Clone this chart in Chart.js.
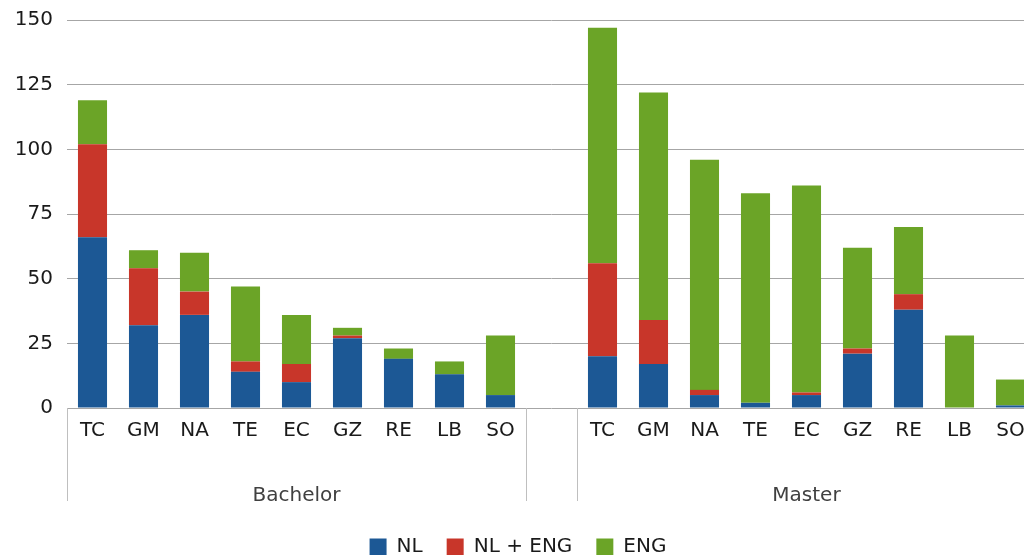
<!DOCTYPE html>
<html>
<head>
<meta charset="utf-8">
<script src="https://cdn.jsdelivr.net/npm/chart.js@4/dist/chart.umd.min.js"></script>
<style>
  html, body { margin: 0; padding: 0; background: #ffffff; overflow: hidden; width: 1024px; height: 555px; }
  #wrap { position: absolute; left: 0; top: 0; width: 1046px; height: 567px; }
</style>
</head>
<body>
<div id="wrap"><canvas id="c"></canvas></div>
<script>
// Categories (gap category between the two groups is an empty label)
const categories = ['TC','GM','NA','TE','EC','GZ','RE','LB','SO','', 'TC','GM','NA','TE','EC','GZ','RE','LB','SO'];
const groups = ['Bachelor', 'Master'];
const groupSpans = [[0, 8], [10, 18]];

// Series values (Bachelor 9, gap, Master 9)
const nl     = [66, 32, 36, 14, 10, 27, 19, 13, 5,  null, 20, 17, 5, 2, 5, 21, 38, 0, 1];
const nlEng  = [36, 22,  9,  4,  7,  1,  0,  0, 0,  null, 36, 17, 2, 0, 1,  2,  6, 0, 0];
const eng    = [17,  7, 15, 29, 19,  3,  4,  5, 23, null, 91, 88, 89, 81, 80, 39, 26, 28, 10];

const seriesNames = ['NL', 'NL + ENG', 'ENG'];
const yTicks = [0, 25, 50, 75, 100, 125, 150];

const FONT = "'DejaVu Sans', Verdana, sans-serif";

const groupPlugin = {
  id: 'groupAxis',
  afterDraw(chart) {
    const ctx = chart.ctx;
    const x = chart.scales.x;
    const area = chart.chartArea;
    const half = (x.getPixelForValue(1) - x.getPixelForValue(0)) / 2;
    const top = area.bottom;
    const bottom = area.bottom + 93;
    ctx.save();
    ctx.strokeStyle = '#bfbfbf';
    ctx.lineWidth = 1;
    const seps = [0, 9, 10];
    seps.forEach(i => {
      const px = Math.round(x.getPixelForValue(i) - half) + 0.5;
      ctx.beginPath();
      ctx.moveTo(px, top);
      ctx.lineTo(px, bottom);
      ctx.stroke();
    });
    ctx.fillStyle = '#404040';
    ctx.font = '20px ' + FONT;
    ctx.textAlign = 'center';
    ctx.textBaseline = 'alphabetic';
    groups.forEach((g, gi) => {
      const [a, b] = groupSpans[gi];
      const cx = (x.getPixelForValue(a) + x.getPixelForValue(b)) / 2;
      ctx.fillText(g, cx, area.bottom + 93);
    });
    ctx.restore();
  }
};

new Chart(document.getElementById('c'), {
  type: 'bar',
  data: {
    labels: categories,
    datasets: [
      { label: seriesNames[0], data: nl,    backgroundColor: '#1c5895' },
      { label: seriesNames[1], data: nlEng, backgroundColor: '#c8362a' },
      { label: seriesNames[2], data: eng,   backgroundColor: '#6ba427' }
    ]
  },
  options: {
    responsive: true,
    maintainAspectRatio: false,
    animation: false,
    datasets: { bar: { barPercentage: 0.57, categoryPercentage: 1.0 } },
    layout: { padding: { top: 20, right: 10, left: 0, bottom: 0 } },
    plugins: {
      tooltip: { enabled: false },
      legend: {
        position: 'bottom',
        labels: {
          font: { family: FONT, size: 20 },
          color: '#1a1a1a',
          boxWidth: 17,
          boxHeight: 17,
          padding: 24
        }
      }
    },
    scales: {
      x: {
        stacked: true,
        grid: { display: false },
        border: { display: false },
        ticks: { font: { family: FONT, size: 20 }, color: '#1a1a1a', padding: 3, maxRotation: 0, autoSkip: false },
        afterFit: s => { s.height = 105; s.paddingLeft = 0; s.paddingRight = 0; }
      },
      y: {
        stacked: true,
        min: 0, max: 150,
        afterBuildTicks: s => { s.ticks = yTicks.map(v => ({ value: v })); },
        grid: { color: '#a6a6a6', lineWidth: 1, drawTicks: false },
        border: { display: false },
        ticks: { font: { family: FONT, size: 20 }, color: '#1a1a1a', padding: 14 },
        afterFit: s => { s.width = 67; s.paddingTop = 0; s.paddingBottom = 0; }
      }
    }
  },
  plugins: [groupPlugin]
});
</script>
</body>
</html>
